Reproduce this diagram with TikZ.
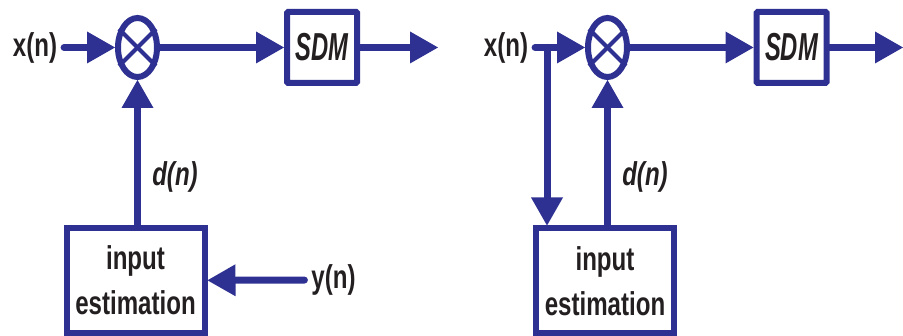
\documentclass[tikz,border=0pt]{standalone}
\usepackage{fontspec}
\setmainfont{Liberation Sans}[FakeStretch=0.73]
\newfontfamily\sdmfont{Liberation Sans}[FakeStretch=0.61]
\usepackage{xcolor}
\usetikzlibrary{arrows.meta,positioning,shapes.geometric,calc}
\definecolor{sigblue}{HTML}{2E3192}
\definecolor{inkgray}{HTML}{231F20}

\begin{document}
\begin{tikzpicture}[
  x=1pt, y=-1pt,
  sig/.style={draw=sigblue, line width=7pt, line cap=round,
    -{Triangle[length=28pt, width=32pt, line width=0pt]}},
  mul/.style={draw=sigblue, ellipse, line width=6pt, minimum width=39pt, minimum height=59pt, inner sep=0pt},
  cross/.style={draw=sigblue, line width=4pt},
  sdmbox/.style={draw=sigblue, line width=6pt, rounded corners=1pt, minimum width=70pt, minimum height=71pt,
    font=\sdmfont\fontsize{39}{39}\selectfont\bfseries\itshape, text=inkgray},
  estbox/.style={draw=sigblue, line width=6pt, minimum width=138pt, minimum height=105pt, align=center,
    font=\fontsize{33}{45}\selectfont\bfseries, text=inkgray},
  lab/.style={font=\fontsize{33}{33}\selectfont\bfseries, text=inkgray, inner sep=0pt, outer sep=7pt},
  dlab/.style={font=\fontsize{33}{33}\selectfont\bfseries\itshape, text=inkgray}
]
  \useasboundingbox (0,0) rectangle (903,336);

  % left: estimation from y(n)
  \node[lab] (xA) at (35,47.5) {x(n)};
  \node[mul] (mulA) at (137.5,47.5) {};
  \node[sdmbox] (sdmA) at (322,47.5) {SDM};
  \coordinate (outA) at (438,47.5);
  \node[estbox] (estA) at (135.5,280.5) {input\\estimation};
  \node[lab] (yA) at (333.5,280) {y(n)};
  \node[dlab] (dA) at (175,177) {d(n)};

  \draw[cross] (mulA.45) -- (mulA.225);
  \draw[cross] (mulA.135) -- (mulA.315);
  \draw[sig] (xA) -- (mulA);
  \draw[sig] (mulA) -- (sdmA);
  \draw[sig] (sdmA) -- (outA);
  \draw[sig] (mulA |- estA.north) -- (mulA);
  \draw[sig] (yA) -- (estA);

  % right: estimation from x(n)
  \node[lab] (xB) at (506,47.5) {x(n)};
  \node[mul] (mulB) at (607.5,47.5) {};
  \node[sdmbox] (sdmB) at (791.5,47.5) {SDM};
  \coordinate (outB) at (903,47.5);
  \node[estbox] (estB) at (605,281) {input\\estimation};
  \node[dlab] (dB) at (645,177) {d(n)};
  \coordinate (jB) at (547,47.5);

  \draw[cross] (mulB.45) -- (mulB.225);
  \draw[cross] (mulB.135) -- (mulB.315);
  \draw[sig] (xB) -- (mulB);
  \draw[sig] (mulB) -- (sdmB);
  \draw[sig] (sdmB) -- (outB);
  \draw[sig] (jB) -- (jB |- estB.north);
  \draw[sig] (mulB |- estB.north) -- (mulB);
\end{tikzpicture}
\end{document}
